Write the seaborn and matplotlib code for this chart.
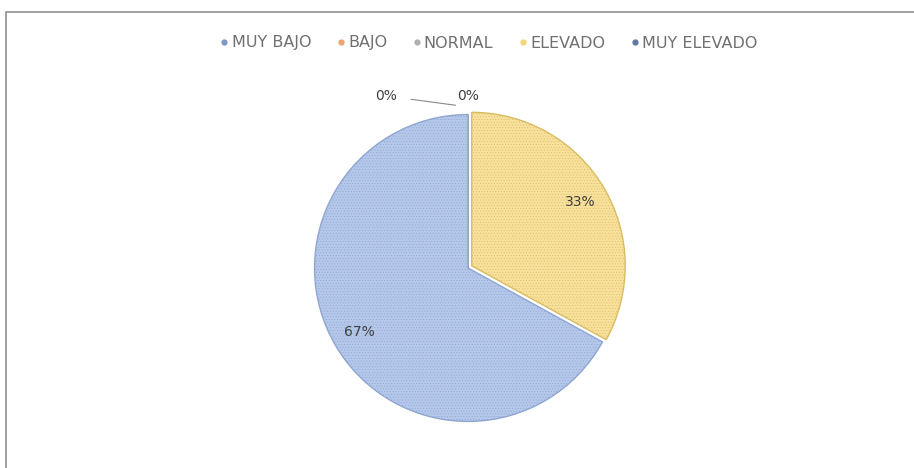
import matplotlib
matplotlib.use("Agg")
import matplotlib.pyplot as plt
import seaborn as sns
from matplotlib.lines import Line2D

# Data
categories = ["MUY BAJO", "BAJO", "NORMAL", "ELEVADO", "MUY ELEVADO"]
values = [0, 0, 0, 33, 67]
slice_colors = ["#8FA9D6", "#F4B183", "#C9C9C9", "#F8E19C", "#B5C8EA"]
edge_colors = ["#6F8BBE", "#D88A55", "#A0A0A0", "#D9BC62", "#8EA6D2"]
marker_colors = ["#7F97C4", "#EEA36B", "#B0B0B0", "#F3D57A", "#5F78A6"]

sns.set_theme(style="white")
plt.rcParams["font.family"] = ["DejaVu Sans"]
plt.rcParams["hatch.linewidth"] = 0.35

fig = plt.figure(figsize=(9.14, 4.68), dpi=100)
fig.patch.set_facecolor("white")

# outer chart frame (top and left edges visible)
fig.add_artist(Line2D([6 / 914, 1.0], [1 - 12 / 468, 1 - 12 / 468],
                      transform=fig.transFigure, color="#a0a0a0", lw=1.4))
fig.add_artist(Line2D([6 / 914, 6 / 914], [0, 1 - 12 / 468],
                      transform=fig.transFigure, color="#a0a0a0", lw=1.4))

# pie axes: centre (468, 268) px, radius ~155 px
size = 400
cx, cy = 468, 268
ax = fig.add_axes([(cx - size / 2) / 914, (468 - cy - size / 2) / 468, size / 914, size / 468])

explode = [0, 0, 0, 0.028, 0]
wedges, texts, autotexts = ax.pie(
    values, colors=slice_colors, startangle=90, counterclock=False,
    explode=explode, radius=0.99,
    autopct=lambda p: f"{p:.0f}%" if p > 0 else "",
    pctdistance=0.82,
    wedgeprops=dict(linewidth=1.2, edgecolor="white"),
    textprops=dict(color="#404040", fontsize=10),
)
lim = (size / 2) / 155
ax.set_xlim(-lim, lim)
ax.set_ylim(-lim, lim)
ax.set_aspect("equal")
ax.axis("off")

for w, ec in zip(wedges, edge_colors):
    w.set_hatch("......")
    w.set_edgecolor(ec)
    w.set_linewidth(1.0)

# labels for zero-valued slices
ax.annotate("0%", xy=(-0.08, 1.05), xytext=(-0.53, 1.11), fontsize=10, color="#404040",
            ha="center", va="center",
            arrowprops=dict(arrowstyle="-", color="#8a8a8a", lw=0.8, shrinkA=8, shrinkB=0))
ax.text(0.0, 1.11, "0%", fontsize=10, color="#404040", ha="center", va="center")

handles = [Line2D([], [], marker="o", linestyle="", markersize=3.5,
                  markerfacecolor=c, markeredgecolor=c) for c in marker_colors]
fig.legend(handles, categories, loc="center", bbox_to_anchor=(488 / 914, 1 - 43 / 468),
           ncol=5, frameon=False, fontsize=11.5, handletextpad=0.1, columnspacing=1.5,
           labelcolor="#707070", handlelength=0.7)

fig.savefig("out.png", dpi=100, facecolor="white")
